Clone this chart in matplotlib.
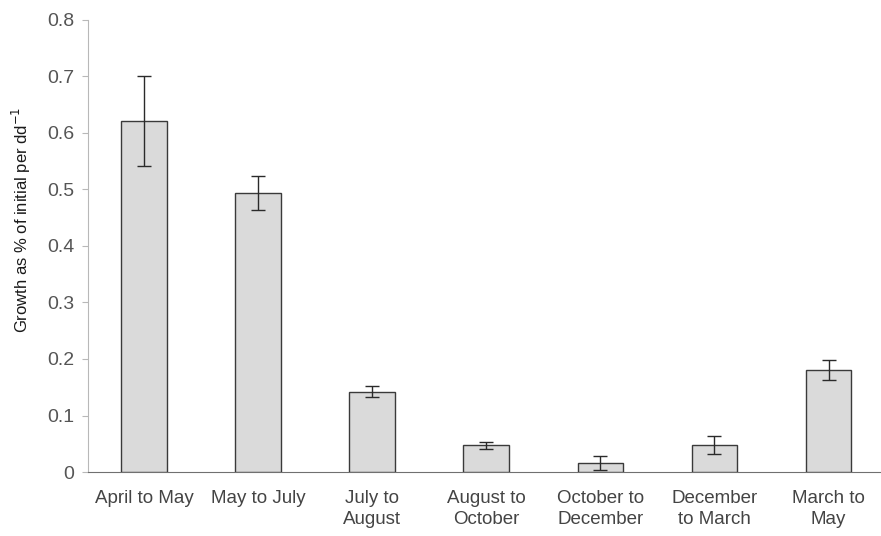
import numpy as np
import matplotlib.pyplot as plt

plt.rcParams['font.family'] = ['Liberation Sans', 'DejaVu Sans']

# growth per period, with error bar half-widths
periods = ['April to May', 'May to July', 'July to\nAugust', 'August to\nOctober',
           'October to\nDecember', 'December\nto March', 'March to\nMay']
growth = [0.621, 0.494, 0.142, 0.047, 0.016, 0.047, 0.180]
err = [0.080, 0.030, 0.010, 0.006, 0.013, 0.016, 0.018]
yticks = [0, 0.1, 0.2, 0.3, 0.4, 0.5, 0.6, 0.7, 0.8]
ytick_labels = ['0', '0.1', '0.2', '0.3', '0.4', '0.5', '0.6', '0.7', '0.8']

fig = plt.figure(figsize=(8.81, 5.36), dpi=100)
ax = fig.add_axes([0.1, 0.1194, 0.9, 0.8433])

x = np.arange(len(periods))
ax.bar(x, growth, width=0.4, color='#dadada', edgecolor='#3a3a3a', linewidth=1.0,
       yerr=err, error_kw=dict(ecolor='#2a2a2a', elinewidth=1.0, capsize=5, capthick=1.0),
       zorder=3)

ax.set_xlim(-0.49, 6.46)
ax.set_ylim(0, 0.8)
ax.set_yticks(yticks)
ax.set_yticklabels(ytick_labels)
ax.set_xticks(x)
ax.set_xticklabels(periods, linespacing=1.32)

for s in ['top', 'right']:
    ax.spines[s].set_visible(False)
ax.spines['left'].set_color('#b8b8b8')
ax.spines['bottom'].set_color('#707070')
ax.tick_params(axis='y', colors='#b8b8b8', length=4, labelcolor='#555555', labelsize=14, pad=6)
ax.tick_params(axis='x', length=0, labelcolor='#444444', labelsize=13.5, pad=13)

ax.set_ylabel('Growth as % of initial per dd$^{-1}$', fontsize=12, color='#1a1a1a')
ax.yaxis.set_label_coords(-0.069, 0.557)

fig.savefig('out.png', dpi=100)
